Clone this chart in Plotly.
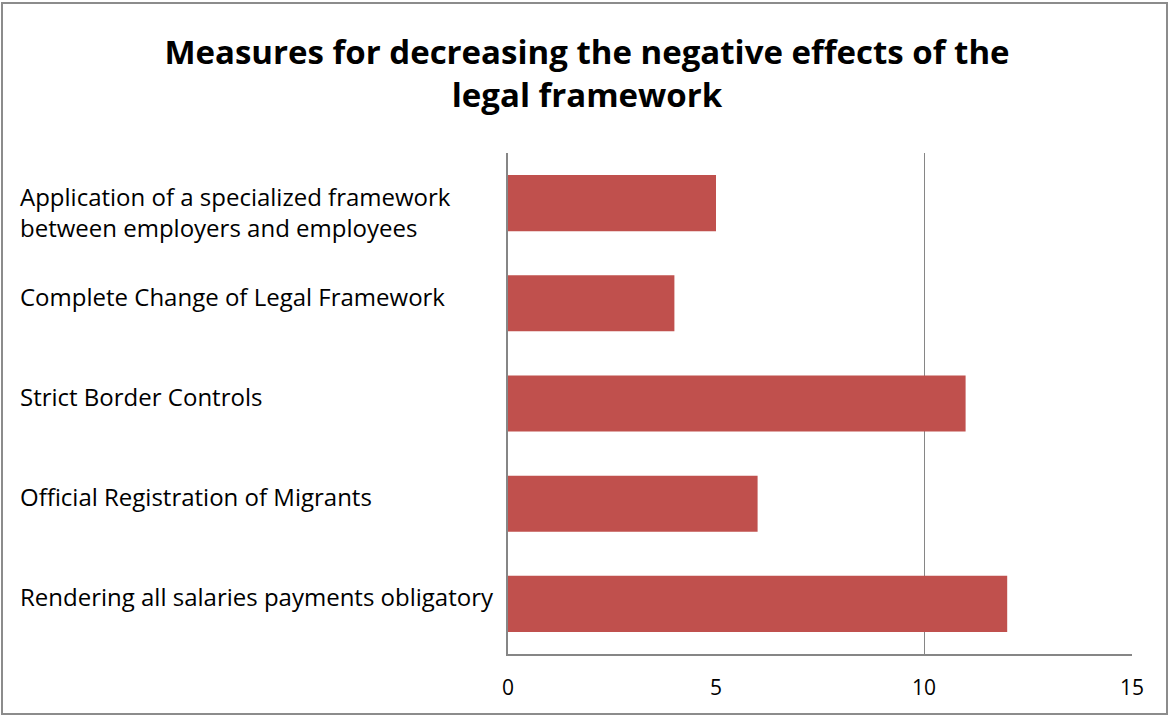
import plotly.graph_objects as go

categories = [
    "Application of a specialized framework<br>between employers and employees",
    "Complete Change of Legal Framework",
    "Strict Border Controls",
    "Official Registration of Migrants",
    "Rendering all salaries payments obligatory",
]
values = [5, 4, 11, 6, 12]
x_ticks = [0, 5, 10, 15]
grid_ticks = [10, 15]

W, H = 1170, 717
L, R, T, B = 508, 1132, 153, 654

def px(x):
    return (x - L) / (R - L)

def py(y):
    return (B - y) / (B - T)

font = "'Open Sans', Lato, sans-serif"

fig = go.Figure()
fig.add_trace(go.Bar(
    y=categories, x=values, orientation="h",
    marker=dict(color="#C0504D", line=dict(width=0)),
    width=0.56, hoverinfo="x+y",
))
fig.add_trace(go.Scatter(x=[None], y=[None], xaxis="x2", showlegend=False))

annotations = []
for c in categories:
    annotations.append(dict(
        x=px(18), xref="paper", y=c, yref="y", text=c, showarrow=False,
        xanchor="left", yanchor="middle", align="left",
        font=dict(family=font, size=24, color="#000"),
        yshift=7 if "<br>" not in c else -9,
    ))

fig.update_layout(
    width=W, height=H,
    margin=dict(l=L, r=W - R, t=T, b=H - B),
    paper_bgcolor="white", plot_bgcolor="white",
    showlegend=False,
    title=dict(
        text="<b>Measures for decreasing the negative effects of the<br>legal framework</b>",
        x=587 / W, xanchor="center", xref="container",
        y=1 - 64 / H, yanchor="middle", yref="container",
        font=dict(family=font, size=33, color="#000"),
    ),
    xaxis=dict(
        range=[0, 15], tickvals=x_ticks, showgrid=False, zeroline=False,
        showline=True, linecolor="#868686", linewidth=2,
        ticks="outside", ticklen=14, tickcolor="rgba(0,0,0,0)",
        tickfont=dict(family=font, size=21, color="#000"),
        fixedrange=True,
    ),
    xaxis2=dict(
        range=[0, 15], tickvals=grid_ticks, overlaying="x", side="top",
        showgrid=True, gridcolor="#868686", gridwidth=1,
        showticklabels=False, zeroline=False, showline=False,
    ),
    yaxis=dict(
        categoryorder="array", categoryarray=categories[::-1],
        showticklabels=False, showgrid=False, zeroline=False,
        showline=True, linecolor="#868686", linewidth=2,
    ),
    annotations=annotations,
    shapes=[dict(
        type="rect", xref="paper", yref="paper",
        x0=px(2), x1=px(1167), y0=py(714), y1=py(3),
        line=dict(color="#8c8c8c", width=2), fillcolor="rgba(0,0,0,0)", layer="below",
    )],
)

fig.write_html(
    "out.html",
    config={"displayModeBar": False},
    post_script="document.body.style.margin='0';document.body.style.overflow='hidden';",
)
